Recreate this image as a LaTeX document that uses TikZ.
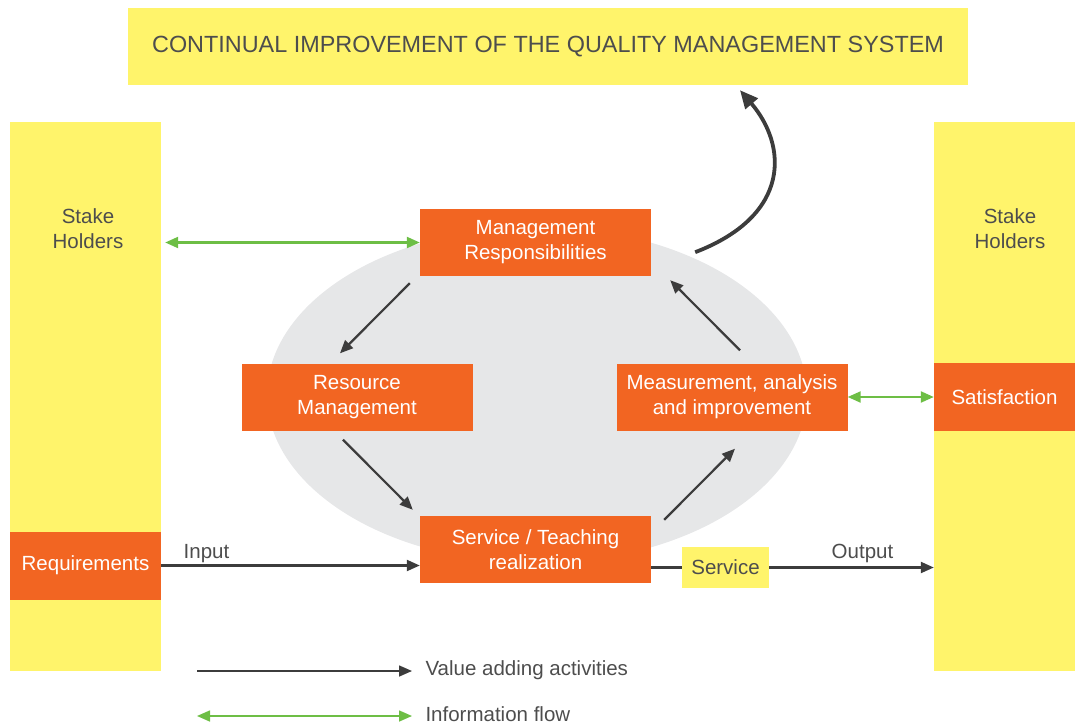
\documentclass[tikz,border=0pt]{standalone}
\usepackage{fontspec}
\setmainfont{Liberation Sans}
\usetikzlibrary{arrows.meta}
\definecolor{qorange}{HTML}{F26522}
\definecolor{qyellow}{HTML}{FFF46B}
\definecolor{qgray}{HTML}{E6E7E8}
\definecolor{qgreen}{HTML}{6DBE45}
\definecolor{qdark}{HTML}{3C3C3C}
\definecolor{qtext}{HTML}{4D4D4D}
\tikzset{
  box/.style={fill=qorange, text=white, align=center, inner sep=0pt,
    minimum width=231pt, minimum height=67pt, font=\fontsize{20.5}{25}\selectfont},
  column/.style={fill=qyellow, inner sep=0pt, minimum height=549pt},
  label/.style={text=qtext, align=center, font=\fontsize{20.5}{25}\selectfont},
  flow/.style={draw=qdark, line width=2.2pt, -{Triangle[length=13pt,width=11pt]}},
  info/.style={draw=qgreen, line width=2.2pt, {Triangle[length=13pt,width=11pt]}-{Triangle[length=13pt,width=11pt]}}
}
\begin{document}
\begin{tikzpicture}[x=1pt,y=-1pt]
  \useasboundingbox (0,0) rectangle (1076,725);
  % background
  \fill[qgray] (537,395) ellipse (270 and 168);
  \node[fill=qyellow, minimum width=840pt, minimum height=77pt, inner sep=0pt,
    text=qtext, font=\fontsize{23.4}{28}\selectfont] (top) at (548,46.5)
    {CONTINUAL IMPROVEMENT OF THE QUALITY MANAGEMENT SYSTEM};
  % columns
  \node[column, minimum width=151pt] (colL) at (85.5,396.5) {};
  \node[column, minimum width=141pt] (colR) at (1004.5,396.5) {};
  \node[label] (shL) at (88,229) {Stake\\Holders};
  \node[label] (shR) at (1010,229) {Stake\\Holders};
  \node[box, minimum width=151pt, minimum height=68pt] (req) at (85.5,565.5) {Requirements};
  \node[box, minimum width=141pt, minimum height=68pt] (sat) at (1004.5,397) {Satisfaction};
  % process
  \node[box] (mgmt) at (535.5,242.5) {Management\\Responsibilities};
  \node[box] (res) at (357,397) {Resource\\Management};
  \node[box] (meas) at (732,397) {Measurement, analysis\\and improvement};
  \node[box] (serv) at (535.5,549.5) {Service / Teaching\\realization};
  \node[fill=qyellow, minimum width=87pt, minimum height=41pt, inner sep=0pt,
    text=qtext, font=\fontsize{20.5}{25}\selectfont] (svc) at (725.5,567.5) {Service};
  % connectors
  \draw[info, shorten <=4pt] (colL.east |- mgmt) -- (mgmt.west);
  \draw[info] (meas.east) -- (sat.west);
  \draw[flow] (req.east) -- (req -| serv.west) node[label, midway, above, xshift=-84pt, yshift=-2pt] {Input};
  \draw[draw=qdark, line width=2.2pt] (serv.east |- svc) -- (svc.west);
  \draw[flow] (svc.east) -- (svc -| colR.west) node[label, midway, above, xshift=11pt, yshift=0pt] {Output};
  \draw[flow] ([xshift=-10pt,yshift=-7pt]mgmt.south west) -- ([xshift=-17pt,yshift=10pt]res.north);
  \draw[flow] ([xshift=-14pt,yshift=-9pt]res.south) -- ([xshift=-7pt,yshift=6pt]serv.north west);
  \draw[flow] ([xshift=13pt,yshift=-4pt]serv.north east) -- ([xshift=3pt,yshift=-18pt]meas.south);
  \draw[flow] ([xshift=8pt,yshift=13pt]meas.north) -- ([xshift=19pt,yshift=-4pt]mgmt.south east);
  \coordinate (cs) at ([xshift=44pt,yshift=24pt]mgmt.south east);
  \coordinate (ce) at ([xshift=192pt,yshift=-5pt]top.south);
  \draw[draw=qdark, line width=3.8pt, -{Triangle[length=18pt,width=16pt]}]
    (cs) .. controls (792,215) and (787,145) .. (ce);
  % legend
  \coordinate (la) at (197,671);
  \coordinate (lb) at (412,671);
  \coordinate (lc) at (197,716);
  \coordinate (ld) at (412,716);
  \draw[flow, line width=1.6pt] (la) -- (lb);
  \draw[info, line width=1.6pt] (lc) -- (ld);
  \node[label, anchor=west, inner ysep=1pt] (lv) at (422,670) {Value adding activities};
  \node[label, anchor=west, inner ysep=1pt] (li) at (422,714.5) {Information flow};
\end{tikzpicture}
\end{document}
